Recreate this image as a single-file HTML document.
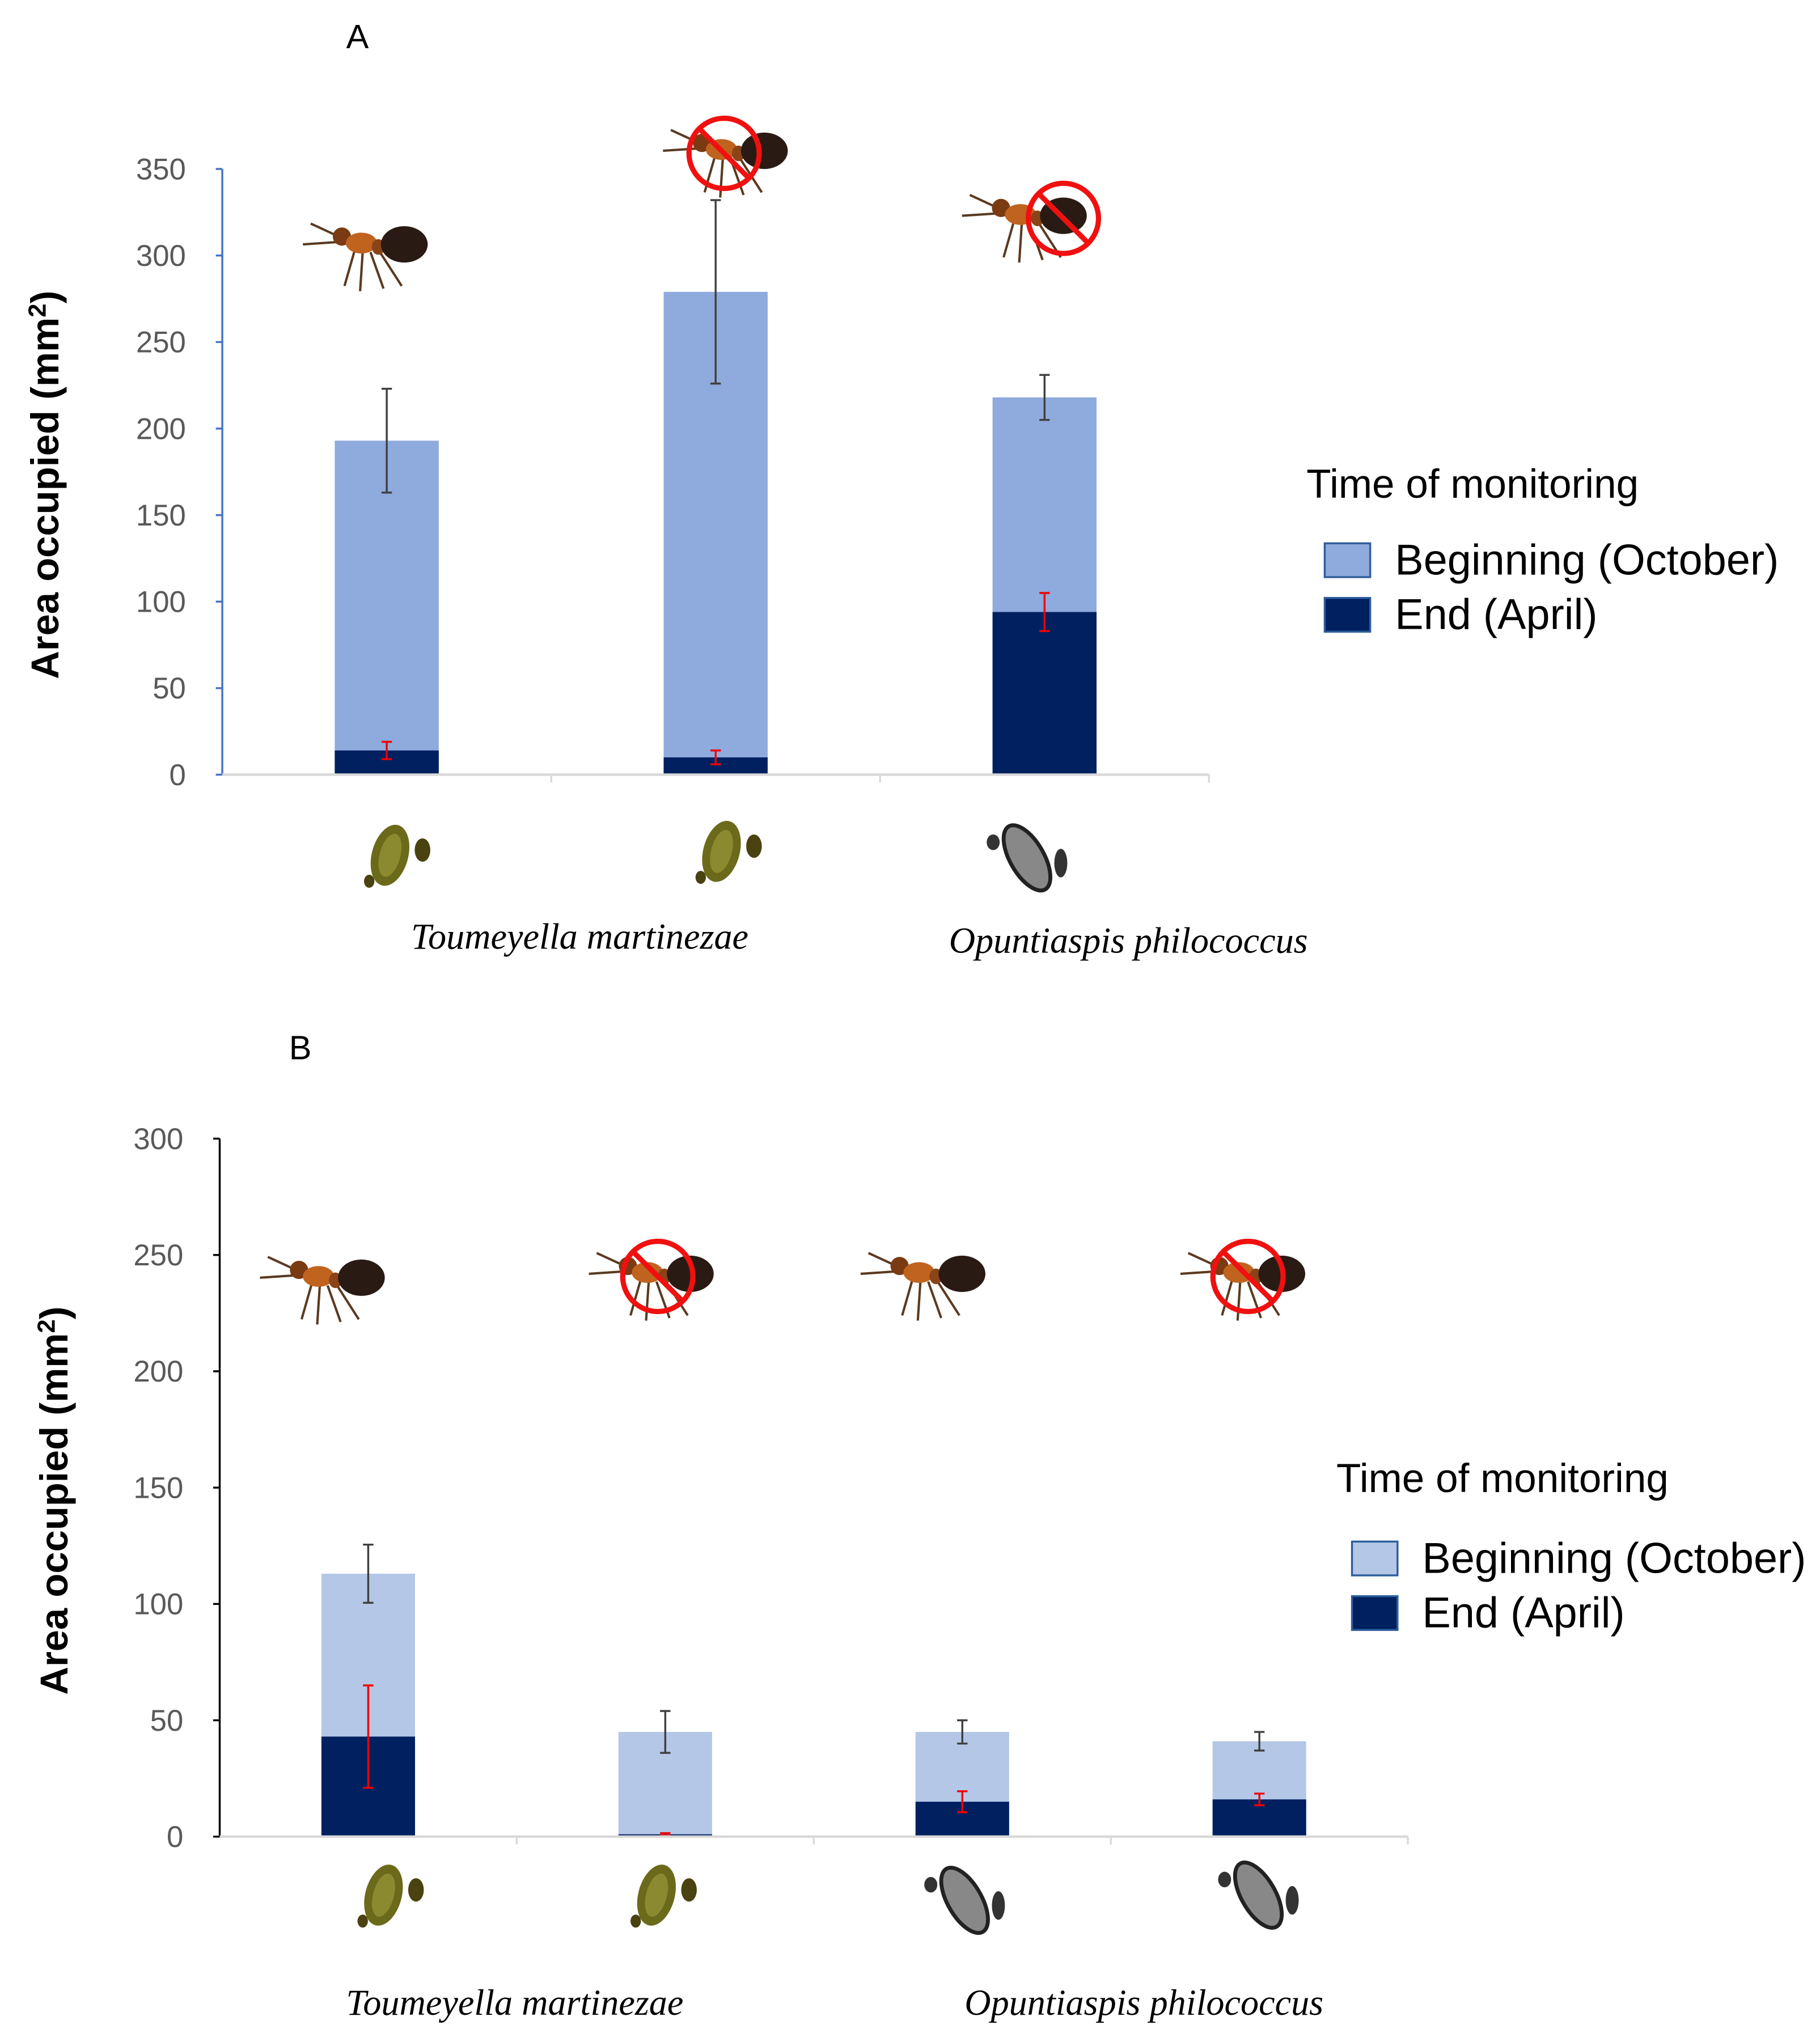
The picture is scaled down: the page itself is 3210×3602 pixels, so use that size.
<!DOCTYPE html>
<html><head><meta charset="utf-8"><style>html,body{margin:0;padding:0;background:#fff}svg{display:block}</style></head>
<body>
<svg id="fig" xmlns="http://www.w3.org/2000/svg" width="3210" height="3602" viewBox="0 0 1400 1571" preserveAspectRatio="none" font-family="Liberation Sans, sans-serif">
<rect width="1400" height="1571" fill="#fff"/>
<g id="pa"></g>
<g id="pb"></g>
</svg>
<script>
const aCategories=["T. martinezae ants","T. martinezae no ants","O. philococcus no ants"];
const aBegin=[193,279,218];
const aBeginErr=[30,53,13];
const aEnd=[14,10,94];
const aEndErr=[5,4,11];
const aTicks=[0,50,100,150,200,250,300,350];
const bCategories=["T. martinezae ants","T. martinezae no ants","O. philococcus ants","O. philococcus no ants"];
const bBegin=[113,45,45,41];
const bBeginErr=[12.5,9,5,4];
const bEnd=[43,1,15,16];
const bEndErr=[22,0.5,4.5,2.5];
const bTicks=[0,50,100,150,200,250,300];

const NS="http://www.w3.org/2000/svg";
function mk(p,tag,at,txt){const e=document.createElementNS(NS,tag);for(const k in at)e.setAttribute(k,at[k]);if(txt!==undefined)e.textContent=txt;p.appendChild(e);return e;}

function ant(g,cx,cy,no,sx){
  const a=mk(g,'g',{});
  
  
  const legs=[[-10,2,-18,30],[-4,4,-6,34],[2,4,12,32],[8,2,26,30],[-18,-6,-44,-18],[-20,-4,-50,-2]];
  legs.forEach(l=>mk(a,'line',{x1:cx+l[0],y1:cy+l[1],x2:cx+l[2],y2:cy+l[3],stroke:'#5a3a20','stroke-width':1.8}));
  mk(a,'ellipse',{cx:cx-20,cy:cy-8,rx:7,ry:7,fill:'#7a3a12'});
  mk(a,'ellipse',{cx:cx-5,cy:cy-3,rx:12,ry:8,fill:'#c0631f'});
  mk(a,'ellipse',{cx:cx+8,cy:cy,rx:5,ry:6,fill:'#8a4418'});
  mk(a,'ellipse',{cx:cx+28,cy:cy-2,rx:18,ry:14,fill:'#2a1a14'});
  if(no){
    const s=sx||cx;
    const ns=mk(g,'g',{});
    
    
    mk(ns,'circle',{cx:s,cy:cy,r:27,fill:'none',stroke:'#f01010','stroke-width':4});
    mk(ns,'line',{x1:s-19,y1:cy-19,x2:s+19,y2:cy+19,stroke:'#f01010','stroke-width':4});
  }
}
function scaleIns(g,cx,cy,kind){
  const s=mk(g,'g',{});
  
  
  if(kind==='g'){
    mk(s,'ellipse',{cx:cx,cy:cy,rx:14,ry:24,fill:'#6b6a1a',transform:`rotate(15 ${cx} ${cy})`});
    mk(s,'ellipse',{cx:cx,cy:cy,rx:8,ry:17,fill:'#a0a040',opacity:0.6,transform:`rotate(15 ${cx} ${cy})`});
    mk(s,'ellipse',{cx:cx+25,cy:cy-4,rx:6,ry:9,fill:'#4a4210'});
    mk(s,'ellipse',{cx:cx-16,cy:cy+20,rx:4,ry:5,fill:'#4a4210'});
  }else{
    mk(s,'ellipse',{cx:cx,cy:cy,rx:13,ry:28,fill:'#888',stroke:'#222','stroke-width':3,transform:`rotate(-30 ${cx} ${cy})`});
    mk(s,'ellipse',{cx:cx+26,cy:cy+4,rx:5,ry:11,fill:'#333'});
    mk(s,'ellipse',{cx:cx-26,cy:cy-12,rx:5,ry:6,fill:'#333'});
  }
}

function panel(g,o){
  const y=v=>o.y0-(v/o.max)*(o.y0-o.yTop);
  const n=o.begin.length, step=(o.x1-o.x0)/n;
  const xc=i=>o.x0+step*(i+0.5);
  const t=mk(g,'text',{x:o.letter[0],y:o.letter[1],'font-size':26,'text-anchor':'middle'},o.letterTxt);
  
  
  o.ticks.forEach(v=>{
    const tl=mk(g,'text',{x:o.x0-28,y:y(v)+8,'font-size':23,'text-anchor':'end',fill:'#595959'},v);
    
    
    mk(g,'line',{x1:o.x0-5,x2:o.x0,y1:y(v),y2:y(v),stroke:o.axisCol,'stroke-width':1.5});
  });
  const ya=mk(g,'line',{x1:o.x0,x2:o.x0,y1:o.yTop,y2:o.y0,stroke:o.axisCol,'stroke-width':1.5});
  
  
  const yt=mk(g,'text',{x:0,y:0,'font-size':30,'font-weight':'bold','text-anchor':'middle',transform:`translate(${o.titleX},${(o.y0+o.yTop)/2+10}) rotate(-90)`});
  
  
  yt.innerHTML='Area occupied (mm<tspan dy="-10" font-size="19">2</tspan><tspan dy="10">)</tspan>';
  const bw=o.barW;
  for(let i=0;i<n;i++){
    const b=mk(g,'rect',{x:xc(i)-bw/2,y:y(o.begin[i]),width:bw,height:o.y0-y(o.begin[i]),fill:o.light});
    
    
    const e=mk(g,'rect',{x:xc(i)-bw/2,y:y(o.end[i]),width:bw,height:o.y0-y(o.end[i]),fill:'#002060'});
    
    
    [[o.begin[i],o.beginErr[i],'#404040'],[o.end[i],o.endErr[i],'#f00000']].forEach(q=>{
      const eb=mk(g,'g',{stroke:q[2],'stroke-width':1.5});
      
      
      const a=y(q[0]+q[1]),c=y(q[0]-q[1]);
      mk(eb,'line',{x1:xc(i),x2:xc(i),y1:a,y2:c});
      mk(eb,'line',{x1:xc(i)-4,x2:xc(i)+4,y1:a,y2:a});
      mk(eb,'line',{x1:xc(i)-4,x2:xc(i)+4,y1:c,y2:c});
    });
  }
  const xa=mk(g,'line',{x1:o.x0,x2:o.x1,y1:o.y0,y2:o.y0,stroke:'#d9d9d9','stroke-width':2});
  
  
  for(let i=1;i<=n;i++)mk(g,'line',{x1:o.x0+step*i,x2:o.x0+step*i,y1:o.y0,y2:o.y0+6,stroke:'#d9d9d9','stroke-width':1.5});
  o.cats.forEach(c=>{
    const ct=mk(g,'text',{x:c[0],y:c[1],'font-size':28,'font-style':'italic','font-family':'Liberation Serif, serif','text-anchor':'middle'},c[2]);
    
    
  });
  const L=o.leg;
  const lt=mk(g,'text',{x:L[0],y:L[1],'font-size':31},'Time of monitoring');
  
  
  [[o.light,'Beginning (October)'],['#002060',o.endLabel]].forEach((it,k)=>{
    const le=mk(g,'g',{});
    
    
    mk(le,'rect',{x:L[2],y:L[3]+k*L[4],width:35,height:26,fill:it[0],stroke:'#2e5e9a','stroke-width':1.5});
    mk(le,'text',{x:L[2]+54,y:L[3]+k*L[4]+24,'font-size':33},it[1]);
  });
}

const pa=document.getElementById('pa'), pb=document.getElementById('pb');
panel(pa,{x0:171,x1:930,y0:596,yTop:130,max:350,ticks:aTicks,begin:aBegin,beginErr:aBeginErr,end:aEnd,endErr:aEndErr,
  barW:80,light:'#8faadc',axisCol:'#4472c4',titleX:45,letter:[275,37],letterTxt:'A',
  cats:[[446,730,'Toumeyella martinezae'],[868,733,'Opuntiaspis philococcus']],
  leg:[1005,383,1019,418,42],endLabel:'End (April)'});
panel(pb,{x0:169,x1:1083,y0:1413,yTop:876,max:300,ticks:bTicks,begin:bBegin,beginErr:bBeginErr,end:bEnd,endErr:bEndErr,
  barW:72,light:'#b4c7e7',axisCol:'#000',titleX:52,letter:[231,815],letterTxt:'B',
  cats:[[396,1550,'Toumeyella martinezae'],[880,1550,'Opuntiaspis philococcus']],
  leg:[1028,1148,1040,1186,42],endLabel:'End  (April)'});

ant(pa,283,190,false);ant(pa,560,118,true,557);ant(pa,790,168,true,818);
ant(pb,250,985,false);ant(pb,503,982,true,506);ant(pb,712,982,false);ant(pb,958,982,true,960);
scaleIns(pa,300,658,'g');scaleIns(pa,555,655,'g');scaleIns(pa,790,660,'o');
scaleIns(pb,295,1458,'g');scaleIns(pb,505,1458,'g');scaleIns(pb,742,1462,'o');scaleIns(pb,968,1458,'o');
</script>
</body></html>
